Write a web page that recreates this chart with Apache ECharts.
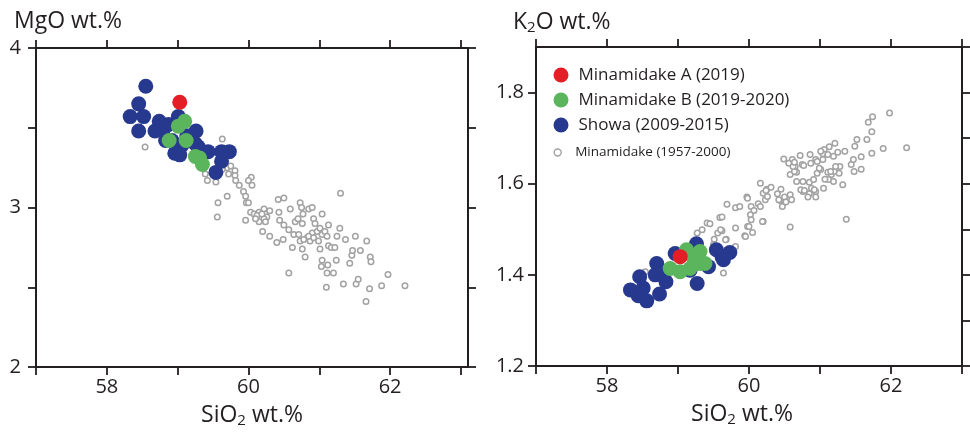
<!DOCTYPE html>
<html><head><meta charset="utf-8">
<script src="https://cdn.jsdelivr.net/npm/echarts@6/dist/echarts.min.js"></script>
<style>html,body{margin:0;padding:0;background:#fff}#c{width:970px;height:432px}</style>
</head><body><div id="c"></div>
<script>
// ---- tick / label values ----
const siTicks = [57, 58, 59, 60, 61, 62, 63];
const siLabels = [58, 60, 62];
const mgoTicks = [2, 2.5, 3, 3.5, 4];
const mgoLabels = [2, 3, 4];
const k2oLeftTicks = [1.2, 1.4, 1.6, 1.8];
const k2oRightTicks = [1.2, 1.3, 1.4, 1.5, 1.6, 1.7, 1.8, 1.9];
const k2oLabels = [1.2, 1.4, 1.6, 1.8];

const seriesNames = ['Minamidake A (2019)', 'Minamidake B (2019-2020)', 'Showa (2009-2015)', 'Minamidake (1957-2000)'];

// ---- SiO2 vs MgO ----
const mgoA = [[59.03, 3.66]];
const mgoB = [[59.10, 3.54], [59.01, 3.51], [58.88, 3.42], [59.12, 3.42], [59.25, 3.32], [59.31, 3.31], [59.35, 3.27]];
const mgoShowa = [[58.55, 3.76], [58.45, 3.65], [58.33, 3.57], [58.52, 3.57], [58.45, 3.48], [58.68, 3.48], [58.74, 3.54], [58.87, 3.52], [59.01, 3.57], [58.92, 3.42], [58.96, 3.34], [59.03, 3.33], [59.26, 3.48], [59.25, 3.40], [59.29, 3.38], [59.43, 3.35], [59.62, 3.35], [59.73, 3.35], [59.62, 3.29], [59.54, 3.22], [59.13, 3.45], [59.06, 3.39], [58.80, 3.49], [58.83, 3.42]];
const mgoOld = [[58.54, 3.38], [59.63, 3.43], [59.39, 3.21], [59.42, 3.17], [59.54, 3.16], [59.72, 3.21], [59.81, 3.23], [59.81, 3.20], [59.82, 3.17], [59.87, 3.14], [59.70, 3.07], [59.57, 3.03], [59.56, 2.94], [59.93, 3.10], [59.96, 3.07], [60.04, 3.19], [60.00, 3.17], [60.05, 3.14], [59.97, 3.03], [60.00, 3.03], [59.96, 2.92], [60.03, 2.97], [60.08, 2.96], [60.15, 2.97], [60.22, 2.99], [60.24, 2.96], [60.17, 2.94], [60.26, 2.94], [60.30, 2.98], [60.15, 2.91], [60.22, 2.93], [60.24, 2.91], [60.20, 2.85], [60.30, 2.82], [60.42, 3.05], [60.50, 3.06], [60.43, 2.97], [60.44, 2.92], [60.50, 2.89], [60.40, 2.78], [60.49, 2.80], [60.57, 2.86], [60.59, 2.99], [60.62, 2.75], [60.64, 2.83], [60.57, 2.59], [60.66, 2.91], [60.70, 2.93], [60.73, 3.03], [60.75, 3.00], [60.77, 2.96], [60.76, 2.90], [60.71, 2.83], [60.73, 2.79], [60.76, 2.74], [60.80, 2.69], [60.83, 2.81], [60.85, 2.99], [60.90, 3.00], [60.92, 2.93], [60.94, 2.90], [60.90, 2.84], [60.87, 2.79], [60.97, 2.85], [61.01, 2.87], [61.04, 2.96], [61.04, 2.83], [61.08, 2.85], [61.13, 2.89], [61.11, 2.82], [61.01, 2.74], [61.04, 2.67], [61.03, 2.63], [61.12, 2.64], [61.11, 2.59], [61.10, 2.50], [61.20, 2.59], [61.13, 2.76], [61.17, 2.75], [61.22, 2.75], [61.25, 2.82], [61.29, 2.87], [61.24, 2.67], [61.30, 3.09], [61.37, 2.80], [61.34, 2.52], [61.43, 2.65], [61.46, 2.70], [61.47, 2.73], [61.51, 2.82], [61.52, 2.52], [61.55, 2.55], [61.58, 2.73], [61.66, 2.41], [61.67, 2.79], [61.71, 2.49], [61.72, 2.69], [61.73, 2.66], [61.88, 2.51], [61.97, 2.58], [62.21, 2.51], [60.78, 2.80], [60.85, 2.82], [60.92, 2.81], [60.99, 2.79], [60.12, 2.95], [60.19, 2.96], [60.10, 2.93], [59.70, 3.25], [59.63, 3.24], [59.75, 3.26]];

// ---- SiO2 vs K2O ----
const k2oA = [[59.03, 1.44]];
const k2oB = [[59.12, 1.455], [59.31, 1.451], [58.89, 1.414], [59.03, 1.407], [59.17, 1.414], [59.31, 1.425], [59.38, 1.425], [59.22, 1.436]];
const k2oShowa = [[58.33, 1.367], [58.46, 1.396], [58.51, 1.371], [58.44, 1.354], [58.56, 1.343], [58.74, 1.358], [58.70, 1.425], [58.68, 1.400], [58.83, 1.385], [58.96, 1.447], [59.26, 1.468], [59.27, 1.381], [59.43, 1.418], [59.54, 1.455], [59.64, 1.433], [59.73, 1.449], [59.17, 1.410], [58.79, 1.404], [59.62, 1.440]];
const k2oOld = [[61.98, 1.755], [61.74, 1.747], [61.68, 1.735], [61.73, 1.714], [61.66, 1.697], [61.52, 1.697], [61.49, 1.682], [61.35, 1.671], [61.21, 1.689], [61.13, 1.681], [61.06, 1.675], [61.04, 1.666], [61.19, 1.660], [61.25, 1.669], [60.94, 1.653], [60.86, 1.664], [60.72, 1.662], [60.61, 1.653], [60.49, 1.654], [60.56, 1.645], [60.65, 1.638], [60.75, 1.642], [60.58, 1.620], [60.67, 1.625], [60.67, 1.605], [60.76, 1.605], [60.85, 1.603], [60.91, 1.609], [60.96, 1.623], [61.01, 1.631], [61.11, 1.625], [61.16, 1.620], [61.20, 1.627], [61.27, 1.623], [61.12, 1.609], [61.19, 1.605], [61.32, 1.598], [61.05, 1.590], [60.88, 1.590], [60.76, 1.583], [60.85, 1.578], [60.83, 1.571], [60.94, 1.571], [60.94, 1.583], [61.44, 1.642], [61.48, 1.627], [61.58, 1.659], [61.58, 1.632], [61.73, 1.667], [61.89, 1.677], [62.22, 1.679], [61.37, 1.522], [60.58, 1.505], [60.16, 1.601], [60.20, 1.579], [60.25, 1.588], [60.31, 1.592], [60.23, 1.565], [60.13, 1.556], [60.03, 1.550], [59.97, 1.571], [60.07, 1.541], [60.02, 1.532], [60.03, 1.521], [60.20, 1.517], [59.98, 1.506], [60.05, 1.493], [59.94, 1.486], [60.40, 1.578], [60.44, 1.563], [60.50, 1.571], [60.47, 1.550], [60.58, 1.576], [60.60, 1.565], [60.52, 1.560], [59.81, 1.547], [59.87, 1.550], [59.69, 1.555], [59.81, 1.503], [59.59, 1.526], [59.41, 1.514], [59.45, 1.512], [59.34, 1.499], [59.27, 1.492], [59.51, 1.478], [59.56, 1.492], [59.62, 1.497], [59.68, 1.478], [59.81, 1.462], [59.50, 1.466], [59.64, 1.404], [58.54, 1.407], [61.01, 1.671], [61.47, 1.653], [61.28, 1.638], [61.22, 1.638], [61.15, 1.627], [60.99, 1.634], [60.64, 1.627], [60.62, 1.638], [60.64, 1.647], [60.77, 1.640], [60.87, 1.645], [60.96, 1.649], [61.04, 1.653], [61.11, 1.664], [61.07, 1.610], [60.73, 1.587], [60.78, 1.585], [60.92, 1.587], [60.24, 1.585], [60.26, 1.572], [60.45, 1.588], [60.42, 1.565], [60.16, 1.550], [59.98, 1.568], [60.19, 1.517], [60.00, 1.506], [59.95, 1.484], [59.62, 1.527], [59.60, 1.499], [59.67, 1.477]];

// ---- styles ----
const FONT = "'Open Sans', 'Noto Sans', sans-serif";
const INK = '#231f20';
const RED = '#e31e26', GREEN = '#5bb55d', BLUE = '#27398f', GREY = '#a2a2a2';
const BIG = 15, SMALL = 5.5;

function axisCommon() {
  return {
    type: 'value',
    splitLine: { show: false },
    axisLine: { show: true, onZero: false, lineStyle: { color: INK, width: 2 } },
  };
}
function xAx(grid, pos, max, showLabels, name, namePad) {
  const a = Object.assign(axisCommon(), {
    gridIndex: grid, position: pos, min: 57, max: max,
    axisTick: { show: true, inside: false, length: 8, customValues: siTicks, lineStyle: { color: INK, width: 1.8 } },
    axisLabel: { show: showLabels, customValues: siLabels, margin: 10, color: INK, fontSize: 20, fontFamily: FONT }
  });
  if (name) {
    a.name = name;
    a.nameLocation = 'middle';
    a.nameGap = 35;
    a.nameMoveOverlap = false;
    a.nameTextStyle = {
      color: INK, fontFamily: FONT, fontSize: 23, padding: namePad,
      rich: {
        n: { fontSize: 23, fontFamily: FONT, color: INK, lineHeight: 26 },
        s: { fontSize: 15, fontFamily: FONT, color: INK, lineHeight: 14, verticalAlign: 'bottom' }
      }
    };
  }
  return a;
}
function yAx(grid, pos, min, max, ticks, labels, margin, fmt) {
  return Object.assign(axisCommon(), {
    gridIndex: grid, position: pos, min: min, max: max,
    axisTick: { show: true, inside: false, length: 8, customValues: ticks, lineStyle: { color: INK, width: 1.8 } },
    axisLabel: { show: !!labels, customValues: labels || undefined, margin: margin, color: INK, fontSize: 20, fontFamily: FONT, formatter: fmt }
  });
}

function sc(name, data, xi, yi, kind) {
  const s = { type: 'scatter', name: name, data: data, xAxisIndex: xi, yAxisIndex: yi, symbol: 'circle', emphasis: { disabled: true } };
  if (kind === 'old') {
    s.symbolSize = SMALL;
    s.itemStyle = { color: '#ffffff', borderColor: GREY, borderWidth: 1.5, opacity: 1 };
  } else {
    s.symbolSize = BIG;
    s.itemStyle = { color: kind, opacity: 1 };
  }
  return s;
}

const chart = echarts.init(document.getElementById('c'), null, { renderer: 'canvas' });
chart.setOption({
  animation: false,
  backgroundColor: '#ffffff',
  textStyle: { fontFamily: FONT },
  grid: [
    { left: 36, top: 48, width: 432, height: 319, containLabel: false, outerBoundsMode: 'none' },
    { left: 536, top: 47, width: 426, height: 319, containLabel: false, outerBoundsMode: 'none' }
  ],
  xAxis: [
    xAx(0, 'bottom', 63.1, true, '{n|SiO}{s|2}{n| wt.%}', [0, 0, 0, 0]),
    xAx(0, 'top', 63.1, false),
    xAx(1, 'bottom', 63, true, '{n|SiO}{s|2}{n| wt.%}', [0, 14, 0, 0]),
    xAx(1, 'top', 63, false)
  ],
  yAxis: [
    yAx(0, 'left', 2, 4, mgoTicks, mgoLabels, 15, v => String(v)),
    yAx(0, 'right', 2, 4, mgoTicks, null, 8),
    yAx(1, 'left', 1.2, 1.9, k2oLeftTicks, k2oLabels, 12, v => v.toFixed(1)),
    yAx(1, 'right', 1.2, 1.9, k2oRightTicks, null, 8)
  ],
  legend: [
    {
      orient: 'vertical', left: 548.5, top: 61, itemWidth: 25, itemHeight: 15, itemGap: 7,
      icon: 'circle', selectedMode: false,
      textStyle: { fontSize: 17, lineHeight: 18, color: INK, fontFamily: FONT },
      data: [
        { name: seriesNames[0], itemStyle: { color: RED } },
        { name: seriesNames[1], itemStyle: { color: GREEN } },
        { name: seriesNames[2], itemStyle: { color: BLUE } }
      ]
    },
    {
      orient: 'vertical', left: 548.5, top: 140.5, itemWidth: 25, itemHeight: 7,
      icon: 'circle', selectedMode: false,
      textStyle: { fontSize: 13.5, lineHeight: 13, color: INK, fontFamily: FONT },
      data: [
        { name: seriesNames[3], itemStyle: { color: '#ffffff', borderColor: GREY, borderWidth: 1.4 } }
      ]
    }
  ],
  graphic: [
    { type: 'text', x: 14, y: 21, style: { text: 'MgO wt.%', fill: INK, font: "23px " + FONT, verticalAlign: 'middle', align: 'left' } },
    { type: 'text', x: 513, y: 22.5, style: {
        text: '{n|K}{s|2}{n|O wt.%}', verticalAlign: 'middle', align: 'left',
        rich: {
          n: { fontSize: 23, fontFamily: FONT, fill: INK, lineHeight: 26 },
          s: { fontSize: 15, fontFamily: FONT, fill: INK, lineHeight: 14, verticalAlign: 'bottom' }
        } } }
  ],
  series: [
    sc(seriesNames[3], mgoOld, 0, 0, 'old'),
    sc(seriesNames[2], mgoShowa, 0, 0, BLUE),
    sc(seriesNames[1], mgoB, 0, 0, GREEN),
    sc(seriesNames[0], mgoA, 0, 0, RED),
    sc(seriesNames[3], k2oOld, 2, 2, 'old'),
    sc(seriesNames[2], k2oShowa, 2, 2, BLUE),
    sc(seriesNames[1], k2oB, 2, 2, GREEN),
    sc(seriesNames[0], k2oA, 2, 2, RED)
  ]
});
</script></body></html>
